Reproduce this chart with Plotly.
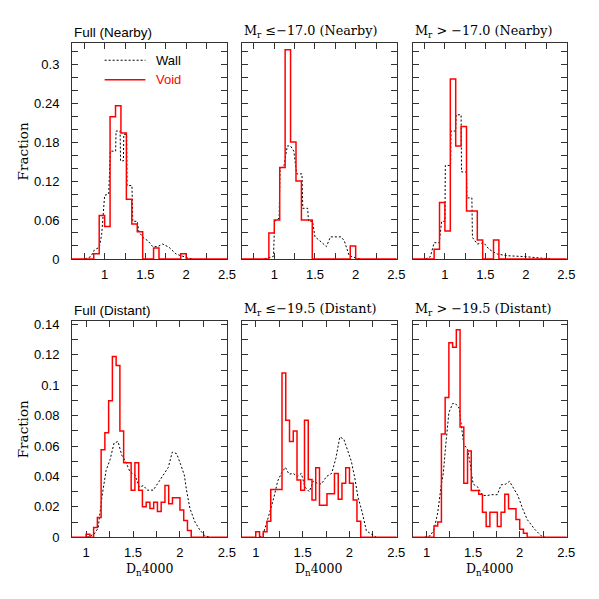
import plotly.graph_objects as go

# Dn4000 histograms, wall vs void, fraction per bin
# nearby sample: bins of 1/15 starting at 0.8
near_start = 0.8
near_width = 1 / 15
void_near_full = [0, 0.008, 0.067, 0.050, 0.219, 0.236, 0.194, 0.092, 0.054, 0.042,
                  0, 0, 0.017, 0, 0, 0, 0, 0.008]
void_near_bright = [0, 0, 0.040, 0.060, 0.141, 0.322, 0.180, 0.120, 0.060, 0.060,
                    0, 0, 0, 0, 0, 0, 0, 0.020]
void_near_faint = [0, 0.015, 0.087, 0.043, 0.277, 0.174, 0.204, 0.074, 0.074, 0.029,
                   0, 0, 0.029]

# distant sample: bins of 0.04 starting at 1.0
far_start = 1.0
far_width = 0.04
void_far_full = [0.002, 0, 0.0065, 0.013, 0.0575, 0.0687, 0.0898, 0.119, 0.113, 0.070,
                 0.049, 0.049, 0.031, 0.049, 0.031, 0.020, 0.023, 0.019, 0.023, 0.017,
                 0.023, 0.034, 0.022, 0.026, 0.026, 0.018, 0.011, 0.0045]
void_far_bright = [0.0036, 0, 0.0036, 0.0106, 0.0315, 0.0315, 0.0315, 0.108, 0.077, 0.063,
                   0.070, 0.0377, 0.031, 0.077, 0.038, 0.0245, 0.0458, 0.021, 0.021, 0.0287,
                   0.0287, 0.042, 0.025, 0.0355, 0.0458, 0.0355, 0.0245, 0.0106]
void_far_faint = [0, 0, 0.0074, 0.010, 0.068, 0.092, 0.128, 0.125, 0.1366, 0.0725,
                  0.0355, 0.0568, 0.0308, 0.0308, 0.0283, 0.0164, 0.007, 0.0164, 0.0164, 0.007,
                  0.0164, 0.0283, 0.0187, 0.0187, 0.0117, 0.0053, 0.0026]

# wall curves (dotted), read as x/y points
wall_near_full_x = [0.76, 0.83, 0.875, 0.935, 0.964, 1.0, 1.05, 1.07, 1.135, 1.14, 1.19, 1.195,
                    1.23, 1.235, 1.27, 1.275, 1.335, 1.345, 1.40, 1.42, 1.47, 1.53, 1.59, 1.65,
                    1.71, 1.79, 1.875, 1.935, 2.02, 2.08]
wall_near_full_y = [0, 0.0035, 0.014, 0.018, 0.038, 0.098, 0.100, 0.166, 0.166, 0.197, 0.197, 0.151,
                    0.151, 0.192, 0.192, 0.113, 0.113, 0.058, 0.058, 0.042, 0.033, 0.028, 0.019, 0.019,
                    0.023, 0.018, 0.0076, 0.005, 0.0015, 0]
wall_near_bright_x = [0.88, 0.99, 1.005, 1.06, 1.07, 1.12, 1.16, 1.2, 1.24, 1.275, 1.34, 1.35,
                      1.41, 1.42, 1.47, 1.50, 1.56, 1.64, 1.69, 1.82, 1.86, 1.92, 1.98, 2.05]
wall_near_bright_y = [0, 0.004, 0.058, 0.063, 0.139, 0.144, 0.174, 0.174, 0.166, 0.131, 0.131, 0.078,
                      0.078, 0.058, 0.058, 0.034, 0.028, 0.019, 0.034, 0.034, 0.028, 0.005, 0.0025, 0]
wall_near_faint_x = [0.76, 0.82, 0.867, 0.93, 0.96, 1.0, 1.005, 1.07, 1.075, 1.133, 1.138, 1.2,
                     1.205, 1.267, 1.272, 1.333, 1.34, 1.4, 1.48, 1.544, 1.645, 1.766, 2.0, 2.25, 2.3]
wall_near_faint_y = [0, 0.0035, 0.025, 0.025, 0.058, 0.058, 0.144, 0.144, 0.197, 0.197, 0.222, 0.222,
                     0.134, 0.134, 0.094, 0.094, 0.033, 0.023, 0.025, 0.015, 0.0076, 0.005, 0.0035, 0.0015, 0]

wall_far_full_x = [1.007, 1.085, 1.128, 1.17, 1.213, 1.255, 1.298, 1.34, 1.38, 1.42, 1.468, 1.52,
                   1.567, 1.61, 1.652, 1.716, 1.78, 1.82, 1.876, 1.918, 1.965, 2.007, 2.046, 2.07,
                   2.106, 2.16, 2.21, 2.266, 2.32]
wall_far_full_y = [0, 0.002, 0.006, 0.027, 0.044, 0.051, 0.062, 0.063, 0.054, 0.050, 0.043, 0.041,
                   0.033, 0.034, 0.031, 0.031, 0.037, 0.041, 0.046, 0.056, 0.055, 0.048, 0.041, 0.031,
                   0.019, 0.010, 0.005, 0.001, 0]
wall_far_bright_x = [1.04, 1.078, 1.117, 1.156, 1.195, 1.234, 1.277, 1.316, 1.355, 1.40, 1.443, 1.486,
                     1.525, 1.571, 1.613, 1.656, 1.70, 1.755, 1.81, 1.855, 1.897, 1.94, 1.986, 2.02,
                     2.057, 2.09, 2.138, 2.18, 2.234, 2.287]
wall_far_bright_y = [0, 0.002, 0.0096, 0.018, 0.0266, 0.037, 0.0426, 0.046, 0.0415, 0.042, 0.040, 0.042,
                     0.033, 0.030, 0.037, 0.0355, 0.035, 0.040, 0.042, 0.052, 0.066, 0.0645, 0.056, 0.050,
                     0.039, 0.0266, 0.016, 0.0043, 0.002, 0]
wall_far_faint_x = [0.98, 1.04, 1.08, 1.12, 1.16, 1.18, 1.21, 1.24, 1.28, 1.31, 1.35, 1.37, 1.40,
                    1.44, 1.47, 1.50, 1.55, 1.60, 1.65, 1.70, 1.76, 1.80, 1.85, 1.89, 1.93, 1.98,
                    2.03, 2.08, 2.16, 2.23, 2.27]
wall_far_faint_y = [0, 0.001, 0.005, 0.016, 0.035, 0.042, 0.063, 0.082, 0.088, 0.088, 0.085, 0.075, 0.061,
                    0.058, 0.048, 0.035, 0.033, 0.0275, 0.0275, 0.028, 0.028, 0.0345, 0.035, 0.0368, 0.033, 0.0275,
                    0.019, 0.0117, 0.0053, 0.001, 0]

panel_titles = ["Full (Nearby)", "M<sub>r</sub> \u2264\u221217.0 (Nearby)", "M<sub>r</sub> > \u221217.0 (Nearby)",
                "Full (Distant)", "M<sub>r</sub> \u2264\u221219.5 (Distant)", "M<sub>r</sub> > \u221219.5 (Distant)"]

near_xrange = [0.6, 2.505]
far_xrange = [0.85, 2.505]
near_yrange = [0, 0.332]
far_yrange = [0, 0.1425]

W = 599
col_px = [(65, 222.7), (237.3, 394.7), (410.7, 567.3)]
row_px = [(32, 252), (315, 536)]

panels = [
    (void_near_full, near_start, near_width, wall_near_full_x, wall_near_full_y),
    (void_near_bright, near_start, near_width, wall_near_bright_x, wall_near_bright_y),
    (void_near_faint, near_start, near_width, wall_near_faint_x, wall_near_faint_y),
    (void_far_full, far_start, far_width, wall_far_full_x, wall_far_full_y),
    (void_far_bright, far_start, far_width, wall_far_bright_x, wall_far_bright_y),
    (void_far_faint, far_start, far_width, wall_far_faint_x, wall_far_faint_y),
]

SANS = "Liberation Sans, Arial, sans-serif"
SERIF = "DejaVu Serif, serif"

fig = go.Figure()
layout = {}
annotations = []

for i, (vals, start, width, wx, wy) in enumerate(panels):
    row, col = divmod(i, 3)
    n = i + 1
    xa = "x" if n == 1 else f"x{n}"
    ya = "y" if n == 1 else f"y{n}"
    xrng = near_xrange if row == 0 else far_xrange
    yrng = near_yrange if row == 0 else far_yrange

    # step histogram for void, padded with zero out to the frame
    edges = [start + k * width for k in range(len(vals) + 1)]
    sx = [xrng[0]] + edges + [xrng[1]]
    sy = [0] + list(vals) + [0, 0]

    fig.add_trace(go.Scatter(x=wx, y=wy, mode="lines", xaxis=xa, yaxis=ya, showlegend=False,
                             line=dict(color="black", width=1, dash="2px,2px")))
    fig.add_trace(go.Scatter(x=sx, y=sy, mode="lines", xaxis=xa, yaxis=ya, showlegend=False,
                             line=dict(color="#ff0000", width=1.5, shape="hv")))

    x0, x1 = col_px[col]
    y0, y1 = row_px[row]
    axis_common = dict(showgrid=False, zeroline=False, showline=True, linecolor="#333",
                       linewidth=1, mirror="allticks", ticks="inside", ticklen=6,
                       tickcolor="#333", layer="below traces",
                       tickfont=dict(family=SANS, size=13, color="black"))
    layout["xaxis" if n == 1 else f"xaxis{n}"] = dict(
        axis_common, domain=[x0 / W, x1 / W], range=xrng, anchor=ya,
        tick0=0, dtick=0.5, ticklabelstandoff=3,
        minor=dict(dtick=0.25, tick0=0, ticks="inside", ticklen=6, tickcolor="#333"))
    ydt = 0.06 if row == 0 else 0.02
    ymn = 0.02 if row == 0 else 0.01
    layout["yaxis" if n == 1 else f"yaxis{n}"] = dict(
        axis_common, domain=[1 - y1 / W, 1 - y0 / W], range=yrng, anchor=xa,
        tick0=0, dtick=ydt, showticklabels=(col == 0), ticklabelstandoff=9,
        minor=dict(dtick=ymn, tick0=0, ticks="inside", ticklen=6, tickcolor="#333"))

    is_sans = (col == 0)
    annotations.append(dict(text=panel_titles[i], xref=f"{xa} domain", yref=f"{ya} domain",
                            x=0, y=1, xanchor="left", yanchor="bottom", yshift=1, showarrow=False,
                            font=dict(family=SANS if is_sans else SERIF, size=13.5 if is_sans else 12.8,
                                      color="black")))
    if col == 0:
        annotations.append(dict(text="Fraction", xref="paper", yref=f"{ya} domain",
                                x=15.5 / W, y=0.5, xanchor="center", yanchor="middle",
                                textangle=-90, showarrow=False,
                                font=dict(family=SERIF, size=13.5, color="black")))
    if row == 1:
        annotations.append(dict(text="D<sub>n</sub>4000", xref=f"{xa} domain", yref="paper",
                                x=0.5, y=1 - 569 / W, xanchor="center", yanchor="middle",
                                showarrow=False,
                                font=dict(family=SERIF, size=12.5, color="black")))

# legend in the first panel
fig.add_shape(type="line", xref="x", yref="y", x0=1.0, x1=1.5, y0=0.306, y1=0.306,
              line=dict(color="black", width=1, dash="2px,2px"))
fig.add_shape(type="line", xref="x", yref="y", x0=1.0, x1=1.5, y0=0.276, y1=0.276,
              line=dict(color="#ff0000", width=1.5))
annotations.append(dict(text="Wall", xref="x", yref="y", x=1.6, y=0.306, xanchor="left",
                        yanchor="middle", showarrow=False,
                        font=dict(family=SANS, size=13, color="black")))
annotations.append(dict(text="Void", xref="x", yref="y", x=1.6, y=0.276, xanchor="left",
                        yanchor="middle", showarrow=False,
                        font=dict(family=SANS, size=13, color="#ff0000")))

fig.update_layout(**layout)
fig.update_layout(width=W, height=W, autosize=False, margin=dict(l=0, r=0, t=0, b=0),
                  plot_bgcolor="white", paper_bgcolor="white", annotations=annotations)

fig.write_html("out.html")
